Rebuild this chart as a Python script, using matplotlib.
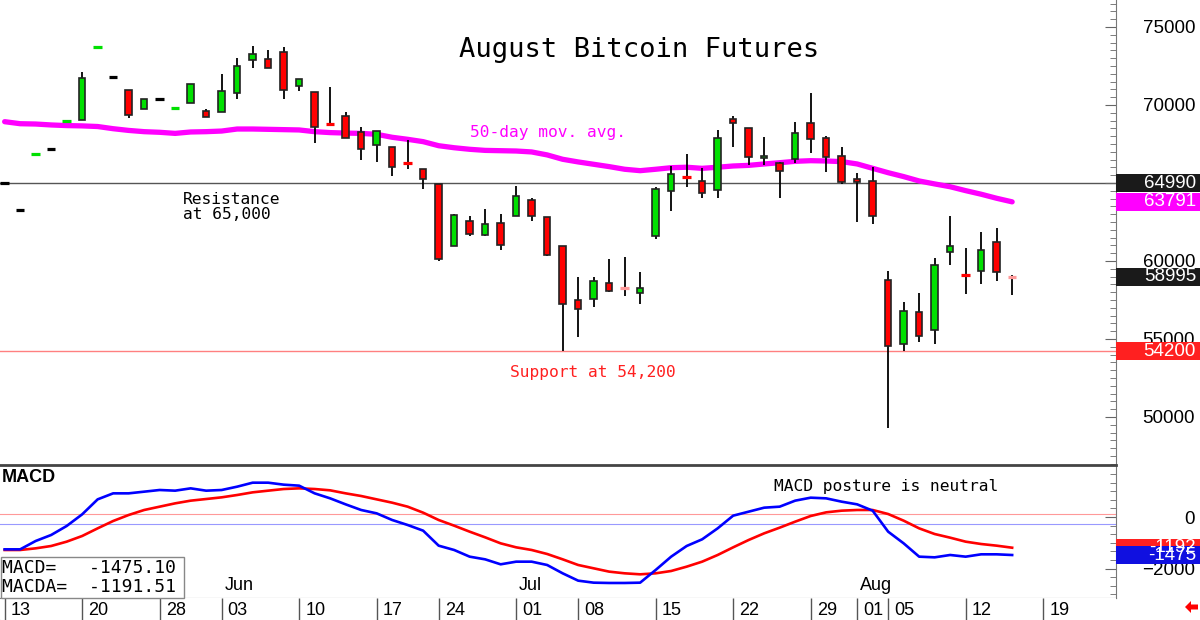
import numpy as np
import matplotlib.pyplot as plt
import matplotlib.transforms as mtransforms
from matplotlib.patches import Rectangle, Polygon
from matplotlib.ticker import MultipleLocator

plt.rcParams['font.family'] = ['Liberation Sans', 'DejaVu Sans']

# daily bars, trading-day index 0 = May 13
opens = [65000, 63270, 66850, 67180, 68960, 69040, 73710, 71790, 70960, 69740,
         70380, 69800, 70130, 69610, 69550, 70770, 72880, 72950, 73400, 71220,
         70830, 68790, 69290, 68270, 67440, 67310, 66290, 65900, 64940, 60960,
         62560, 61670, 62440, 62880, 63910, 62820, 60960, 57500, 57560, 58590,
         58270, 57950, 61600, 64490, 65390, 65130, 64550, 69100, 68520, 66600,
         66280, 66540, 68850, 67880, 66730, 65260, 65130, 58780, 54680, 56730,
         55580, 60580, 59110, 59360, 61220, 58995]
highs = [65000, 63270, 66860, 67180, 68970, 72110, 73720, 71790, 70960, 70380,
         70380, 69810, 71350, 69740, 71990, 73010, 73780, 73520, 73720, 71670,
         70830, 71150, 69550, 68590, 68330, 67310, 67760, 65900, 64940, 63010,
         62880, 63330, 63010, 64810, 64040, 62820, 60960, 58970, 58970, 60130,
         60260, 59290, 64740, 66090, 66860, 65960, 68400, 69290, 68520, 67950,
         66350, 68910, 70770, 68010, 67310, 65640, 66030, 59360, 57370, 57950,
         60190, 62880, 60830, 61860, 62110, 59100]
lows = [65000, 63270, 66850, 67180, 68960, 69040, 73710, 71790, 69170, 69740,
        70380, 69800, 70130, 69230, 69550, 70380, 72370, 72370, 70380, 70900,
        67560, 68780, 67880, 66470, 66350, 65450, 65900, 64610, 60000, 60960,
        61600, 61600, 60700, 62880, 62560, 60320, 54200, 55130, 57050, 58010,
        57760, 57240, 61410, 63200, 64740, 64040, 64040, 67310, 66150, 66150,
        64040, 66280, 66920, 65700, 64940, 62500, 62370, 49300, 54200, 54810,
        54680, 59740, 57880, 58530, 58720, 57820]
closes = [65000, 63270, 66860, 67180, 68970, 71730, 73720, 71790, 69360, 70380,
          70380, 69810, 71350, 69230, 70900, 72500, 73270, 72370, 70960, 71670,
          68590, 68780, 67880, 67180, 68330, 66030, 66280, 65260, 60130, 62950,
          61730, 62370, 61030, 64170, 62880, 60380, 57240, 56920, 58720, 58080,
          58270, 58270, 64610, 65580, 65380, 64360, 67880, 68850, 66670, 66730,
          65770, 68200, 67820, 66670, 65060, 65060, 62880, 54550, 56790, 55190,
          59740, 60960, 59100, 60700, 59290, 58995]
pale_bars = [40, 65]

ma50 = [68930, 68800, 68780, 68720, 68680, 68660, 68620, 68480, 68370, 68290,
        68250, 68180, 68270, 68290, 68330, 68460, 68460, 68440, 68420, 68400,
        68290, 68230, 68200, 68180, 68120, 67930, 67800, 67650, 67390, 67260,
        67160, 67090, 67070, 67050, 66990, 66800, 66520, 66350, 66200, 66050,
        65880, 65790, 65880, 65980, 66010, 65940, 66010, 66090, 66130, 66220,
        66300, 66390, 66430, 66410, 66370, 66220, 65940, 65660, 65410, 65130,
        64940, 64760, 64510, 64280, 64020, 63791]

macd = [-1255, -1255, -931, -698, -349, 103, 685, 918, 918, 983,
        1048, 1022, 1112, 1022, 1048, 1177, 1332, 1332, 1255, 1216,
        918, 724, 491, 272, 142, -116, -310, -530, -1112, -1280,
        -1539, -1643, -1836, -1733, -1733, -1862, -2185, -2470, -2548, -2560,
        -2560, -2548, -2056, -1539, -1125, -866, -440, 52, 207, 362,
        401, 634, 750, 724, 595, 491, 246, -569, -1022, -1539,
        -1565, -1474, -1539, -1448, -1448, -1475.10]
macda = [-1280, -1280, -1216, -1125, -957, -737, -440, -155, 78, 272,
         401, 530, 634, 698, 763, 854, 957, 1022, 1086, 1112,
         1086, 1035, 918, 815, 685, 556, 401, 168, -116, -336,
         -569, -789, -1022, -1177, -1280, -1435, -1642, -1862, -1991, -2120,
         -2185, -2224, -2185, -2095, -1927, -1733, -1474, -1177, -892, -634,
         -414, -181, 39, 181, 246, 272, 272, 116, -142, -440,
         -660, -802, -957, -1048, -1112, -1191.51]
macd_ref_hi = 116
macd_ref_lo = -272

tick_idx = [0, 5, 10, 14, 19, 24, 28, 33, 37, 42, 47, 52, 55, 57, 62, 67]
tick_lbl = ['13', '20', '28', '03', '10', '17', '24', '01', '08', '15', '22',
            '29', '01', '05', '12', '19']
month_idx = [14, 33, 55]
month_lbl = ['Jun', 'Jul', 'Aug']

resistance = 64990
support = 54200

W, H = 1200, 620
def fx(px):
    return px / W
def fy(py):
    return 1 - py / H

fig = plt.figure(figsize=(12, 6.2), dpi=100)
right = 1116 / W
ax = fig.add_axes([0, fy(465), right, 465 / H])
axm = fig.add_axes([0, fy(598), right, (598 - 465) / H])
axd = fig.add_axes([0, 0, right, 22 / H])

xmin, xmax = -0.3, 71.7
for a in (ax, axm, axd):
    a.set_xlim(xmin, xmax)
    a.set_xticks([])
    for s in ('top', 'left', 'bottom', 'right'):
        a.spines[s].set_visible(False)

# ---- price panel
ax.set_ylim(46923, 76730)
ax.axhline(resistance, color='#555555', lw=1, zorder=0.5)
ax.axhline(support, color='#ff8080', lw=1, zorder=0.5)
x = np.arange(len(closes))
ax.plot(x, ma50, color='#ff00ff', lw=3.8, solid_capstyle='round', zorder=1)

for i in x:
    o, h, l, c = opens[i], highs[i], lows[i], closes[i]
    if h > l:
        ax.vlines(i, l, h, color='black', lw=1.3, zorder=2)
    if abs(c - o) < 50:
        if i in pale_bars:
            col = '#ff9a9a'
        elif c > o:
            col = '#00e000'
        elif c < o:
            col = '#ff0000'
        else:
            col = 'black'
        ax.hlines(c, i - 0.28, i + 0.28, color=col, lw=2.3, zorder=3)
    else:
        col = '#00e000' if c > o else '#ff0000'
        ax.add_patch(Rectangle((i - 0.21, min(o, c)), 0.42, abs(c - o),
                               facecolor=col, edgecolor='#222222', lw=1.2, zorder=3))

ax.spines['right'].set_visible(True)
ax.spines['right'].set_color('#777777')
ax.yaxis.tick_right()
ax.set_yticks([50000, 55000, 60000, 65000, 70000, 75000])
ax.yaxis.set_minor_locator(MultipleLocator(500))
ax.tick_params(axis='y', which='major', direction='in', length=8, color='#666666',
               labelsize=13.5, pad=57)
ax.tick_params(axis='y', which='minor', direction='in', length=4, color='#666666')
plt.setp(ax.get_yticklabels(), ha='right')

def tag(axis, val, text, fc, h):
    tr = mtransforms.blended_transform_factory(axis.transAxes, axis.transData)
    axis.add_patch(Rectangle((1.0, val - h / 2), 84 / 1116, h, transform=tr, facecolor=fc,
                             edgecolor='none', clip_on=False, zorder=5))
    axis.text(1196 / 1116, val, text, transform=tr, ha='right', va='center',
              color='white', fontsize=13.5, clip_on=False, zorder=6)

tag(ax, resistance, '64990', '#1a1a1a', 1154)
tag(ax, ma50[-1], '63791', '#ff00ff', 1154)
tag(ax, closes[-1], '58995', '#1a1a1a', 1154)
tag(ax, support, '54200', '#ff2020', 1154)

mono = 'DejaVu Sans Mono'
fig.text(fx(639), fy(50), 'August Bitcoin Futures', ha='center', va='center',
         fontsize=19.5, family=mono)
fig.text(fx(183), fy(199), 'Resistance', va='center', fontsize=11.7, family=mono)
fig.text(fx(183), fy(214), 'at 65,000', va='center', fontsize=11.7, family=mono)
fig.text(fx(470), fy(133), '50-day mov. avg.', va='center', fontsize=11.7,
         family=mono, color='#ff00ff')
fig.text(fx(510), fy(372), 'Support at 54,200', va='center', fontsize=11.7,
         family=mono, color='#ff2020')

# ---- MACD panel
axm.set_ylim(-3143, 2018)
axm.axhline(macd_ref_hi, color='#ff9999', lw=0.8, zorder=0.5)
axm.axhline(macd_ref_lo, color='#9999ff', lw=0.8, zorder=0.5)
axm.plot(x, macda, color='#ff0000', lw=1.9, zorder=2)
axm.plot(x, macd, color='#0000ff', lw=1.9, zorder=3)
axm.spines['top'].set_visible(True)
axm.spines['top'].set_color('#444444')
axm.spines['top'].set_linewidth(2)
axm.spines['bottom'].set_visible(True)
axm.spines['bottom'].set_color('#777777')
axm.spines['right'].set_visible(True)
axm.spines['right'].set_color('#777777')
axm.yaxis.tick_right()
axm.set_yticks([-2000, 0])
axm.yaxis.set_minor_locator(MultipleLocator(2000 / 6))
axm.tick_params(axis='y', which='major', direction='in', length=8, color='#666666',
                labelsize=13.5, pad=57)
axm.tick_params(axis='y', which='minor', direction='in', length=4, color='#666666')
plt.setp(axm.get_yticklabels(), ha='right')
tag(axm, macda[-1], '-1192', '#ff2020', 698)
tag(axm, macd[-1], '-1475', '#1010e0', 698)

off3 = mtransforms.offset_copy(axm.transData, fig=fig, x=3, y=0, units='dots')
for i, lbl in zip(month_idx, month_lbl):
    axm.text(i, -2677, lbl, transform=off3, va='center', ha='left', fontsize=13)

fig.text(fx(2), fy(478), 'MACD', va='center', fontsize=13, fontweight='bold')
fig.text(fx(774), fy(486), 'MACD posture is neutral', va='center', fontsize=11.7,
         family=mono)
fig.add_artist(Rectangle((fx(0.5), fy(598)), fx(183), (598 - 557) / H,
                         transform=fig.transFigure,
                         facecolor='white', edgecolor='#888888', lw=1, zorder=4))
fig.text(fx(2), fy(568), 'MACD=   -%.2f' % abs(macd[-1]), va='center', fontsize=13,
         family=mono, zorder=5)
fig.text(fx(2), fy(587), 'MACDA=  -%.2f' % abs(macda[-1]), va='center', fontsize=13,
         family=mono, zorder=5)

# ---- date row
axd.set_ylim(0, 1)
axd.vlines(tick_idx, 0, 1, color='#555555', lw=1)
off6 = mtransforms.offset_copy(axd.transData, fig=fig, x=6, y=0, units='dots')
for i, lbl in zip(tick_idx, tick_lbl):
    axd.text(i, 0.45, lbl, transform=off6, va='center', ha='left', fontsize=13)

# little red back-arrow in the corner
arrow_px = [(1185, 607), (1191, 601), (1191, 604.5), (1198, 604.5),
            (1198, 609.5), (1191, 609.5), (1191, 613)]
fig.add_artist(Polygon([(fx(a), fy(b)) for a, b in arrow_px], closed=True,
                       transform=fig.transFigure, facecolor='red', edgecolor='none'))

fig.savefig('out.png', dpi=100)
